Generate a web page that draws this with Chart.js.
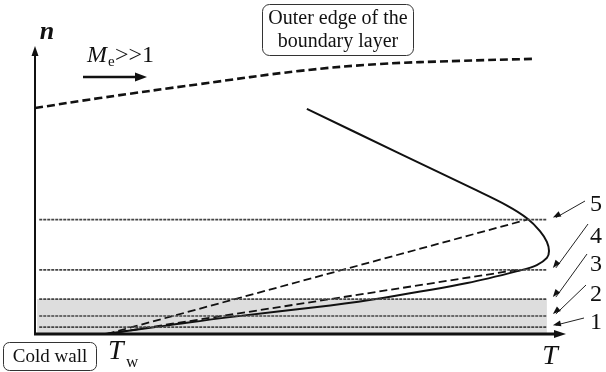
<!DOCTYPE html>
<html>
<head>
<meta charset="utf-8">
<script src="https://cdn.jsdelivr.net/npm/chart.js@4/dist/chart.umd.min.js"></script>
<style>
  html, body { margin: 0; padding: 0; background: #fff; }
  #wrap { width: 606px; height: 372px; }
</style>
</head>
<body>
<div id="wrap"><canvas id="sketch"></canvas></div>
<script>
// levels 1..5 (n values of the horizontal reference lines)
const levelN = [2.4, 6.3, 12.2, 22.4, 40.0];
const levelLabels = ['1', '2', '3', '4', '5'];
const levelStart = 0.8;
const levelEnd = 96.4;

// wall temperature
const tw = 13.5;

// temperature profile T(n)
const profileT = [13.2, 25.4, 36.7, 55.6, 65.5, 81.4, 91.3, 94.5, 96.4, 96.8, 96.4, 95.1, 92.7, 88.9, 82.5, 68.7, 51.2];
const profileN = [0, 3.1, 5.9, 10.0, 12.6, 17.8, 22.2, 24.1, 26.6, 29.0, 32.2, 36.0, 40.4, 44.9, 50.8, 63.1, 78.7];

// tangent lines from T_w to the profile at level 4 and level 5
const tangentEndT = [90.8, 92.7];
const tangentEndN = [22.4, 40.0];

// outer edge of the boundary layer
const edgeT = [0, 12.2, 31.1, 49.9, 65.0, 80.0, 93.8];
const edgeN = [79.0, 82.5, 87.4, 92.0, 94.4, 95.5, 96.2];

const SERIF = '"Liberation Serif"';

const pts = (xs, ys) => xs.map((x, i) => ({ x: x, y: ys[i] }));

const datasets = [];

// shaded region under level 3
datasets.push({
    data: [{ x: levelStart - 0.4, y: levelN[2] }, { x: levelEnd, y: levelN[2] }],
    showLine: true, borderWidth: 0, pointRadius: 0,
    fill: 'origin', backgroundColor: '#dddddd', borderColor: 'rgba(0,0,0,0)'
});

levelN.forEach(n => {
    datasets.push({
        data: [{ x: levelStart, y: n }, { x: levelEnd, y: n }],
        showLine: true, borderColor: '#444', borderWidth: 1.7,
        borderDash: [3, 1], pointRadius: 0, fill: false
    });
});

tangentEndT.forEach((t, i) => {
    datasets.push({
        data: [{ x: tw, y: 0 }, { x: t, y: tangentEndN[i] }],
        showLine: true, borderColor: '#111', borderWidth: 1.8,
        borderDash: [8, 4], pointRadius: 0, fill: false
    });
});

datasets.push({
    data: pts(profileT, profileN),
    showLine: true, borderColor: '#111', borderWidth: 2,
    tension: 0.35, pointRadius: 0, fill: false
});

datasets.push({
    data: pts(edgeT, edgeN),
    showLine: true, borderColor: '#111', borderWidth: 2.6,
    borderDash: [8, 4], tension: 0.4, pointRadius: 0, fill: false
});

function arrowHead(ctx, x1, y1, x2, y2, len, wid) {
    const a = Math.atan2(y2 - y1, x2 - x1);
    ctx.beginPath();
    ctx.moveTo(x2, y2);
    ctx.lineTo(x2 - len * Math.cos(a) + wid * Math.sin(a), y2 - len * Math.sin(a) - wid * Math.cos(a));
    ctx.lineTo(x2 - len * Math.cos(a) - wid * Math.sin(a), y2 - len * Math.sin(a) + wid * Math.cos(a));
    ctx.closePath();
    ctx.fill();
}

function roundBox(ctx, x, y, w, h, r) {
    ctx.beginPath();
    ctx.roundRect(x, y, w, h, r);
    ctx.stroke();
}

const decorations = {
    id: 'decorations',
    afterDraw(chart) {
        const ctx = chart.ctx;
        const xs = chart.scales.x, ys = chart.scales.y;
        const x0 = xs.getPixelForValue(0), y0 = ys.getPixelForValue(0);
        ctx.save();
        ctx.fillStyle = '#111';
        ctx.strokeStyle = '#111';

        // axes
        ctx.lineWidth = 2;
        ctx.beginPath();
        ctx.moveTo(x0, y0 + 1);
        ctx.lineTo(x0, ys.getPixelForValue(100) + 4);
        ctx.stroke();
        arrowHead(ctx, x0, y0, x0, ys.getPixelForValue(100) - 2, 10, 3.5);
        ctx.lineWidth = 3;
        ctx.beginPath();
        ctx.moveTo(x0 - 1, y0);
        ctx.lineTo(xs.getPixelForValue(100) - 6, y0);
        ctx.stroke();
        arrowHead(ctx, x0, y0, xs.getPixelForValue(100), y0, 12, 4);

        // axis names
        ctx.font = 'italic bold 26px ' + SERIF;
        ctx.textAlign = 'center';
        ctx.textBaseline = 'alphabetic';
        ctx.fillText('n', 47, 39);
        ctx.font = 'italic 28px ' + SERIF;
        ctx.fillText('T', 550, 364);

        // T_w
        ctx.textAlign = 'left';
        ctx.fillText('T', 108, 359);
        ctx.font = '17px ' + SERIF;
        ctx.fillText('w', 126, 367);

        // cold wall box
        ctx.lineWidth = 1;
        ctx.strokeStyle = '#333';
        roundBox(ctx, 3.5, 342.5, 93, 28, 6);
        ctx.font = '19px ' + SERIF;
        ctx.textAlign = 'center';
        ctx.fillText('Cold wall', 50, 362);

        // outer edge box
        roundBox(ctx, 262.5, 4.5, 151, 51, 7);
        ctx.font = '20px ' + SERIF;
        ctx.fillText('Outer edge of the', 338, 24);
        ctx.fillText('boundary layer', 338, 47);

        // Mach number label and arrow
        ctx.textAlign = 'left';
        ctx.font = 'italic 24px ' + SERIF;
        ctx.fillText('M', 87, 62);
        ctx.font = '15px ' + SERIF;
        ctx.fillText('e', 108, 66);
        ctx.font = '24px ' + SERIF;
        ctx.fillText('>>1', 115, 62);
        ctx.lineWidth = 2.5;
        ctx.strokeStyle = '#111';
        ctx.beginPath();
        ctx.moveTo(83, 77);
        ctx.lineTo(138, 77);
        ctx.stroke();
        arrowHead(ctx, 83, 77, 147, 77, 12, 4.5);

        // level labels with leader arrows
        const labelY = [322, 294, 264, 236, 204];
        const startPts = [[584, 318], [586, 285], [587, 254], [588, 224], [585, 201]];
        ctx.font = '24px ' + SERIF;
        ctx.textAlign = 'center';
        ctx.textBaseline = 'middle';
        ctx.lineWidth = 1;
        ctx.strokeStyle = '#222';
        levelN.forEach((n, i) => {
            ctx.fillText(levelLabels[i], 596, labelY[i] + 1);
            const tx = xs.getPixelForValue(levelEnd) + 6;
            const ty = ys.getPixelForValue(n) - 2;
            const [sx, sy] = startPts[i];
            ctx.beginPath();
            ctx.moveTo(sx, sy);
            ctx.lineTo(tx + 3, ty);
            ctx.stroke();
            arrowHead(ctx, sx, sy, tx, ty, 8, 3);
        });
        ctx.restore();
    }
};

new Chart(document.getElementById('sketch'), {
    type: 'scatter',
    data: { datasets: datasets },
    options: {
        responsive: true,
        maintainAspectRatio: false,
        animation: false,
        layout: { padding: { left: 35, right: 40, top: 48, bottom: 38 } },
        scales: {
            x: { type: 'linear', min: 0, max: 100, display: false },
            y: { type: 'linear', min: 0, max: 100, display: false }
        },
        plugins: {
            legend: { display: false },
            tooltip: { enabled: false },
            filler: { drawTime: 'beforeDatasetsDraw' }
        }
    },
    plugins: [decorations]
});
</script>
</body>
</html>
